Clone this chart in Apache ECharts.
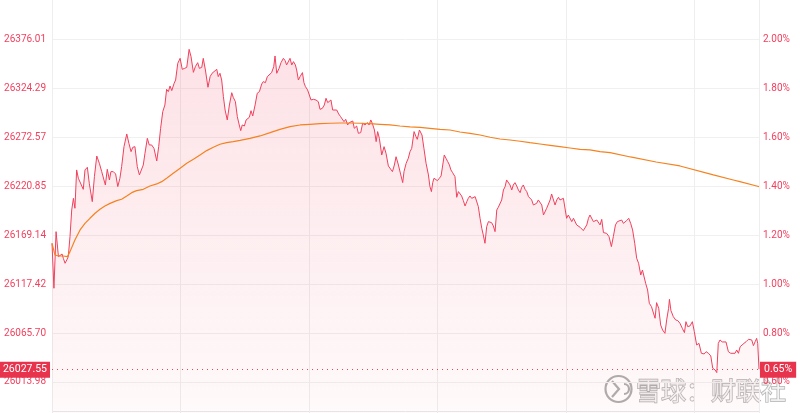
<!DOCTYPE html>
<html>
<head>
<meta charset="utf-8">
<style>html,body{margin:0;padding:0;background:#fff;}#c{width:800px;height:413px;}</style>
<script src="https://cdn.jsdelivr.net/npm/echarts/dist/echarts.min.js"></script>
</head>
<body>
<div id="c"></div>
<script>
// previous close (0% reference) and last price
const prevClose = 25858.83;
const lastPrice = 26027.55;
// percent tick values shown on both axes
const pctTicks = [0.6, 0.8, 1.0, 1.2, 1.4, 1.6, 1.8, 2.0];
// minute offset from 09:30 (lunch break removed), index price
const pricePoints = [[0,26160.5],[0.9,26113.0],[1.9,26172.8],[3.0,26146.4],[3.7,26147.1],[4.7,26149.2],[5.3,26144.6],[6.1,26139.4],[6.9,26142.9],[7.6,26146.4],[8.4,26167.5],[9.2,26195.7],[10.0,26208.0],[10.7,26197.5],[11.5,26238.0],[12.3,26229.2],[13.1,26229.2],[14.6,26217.5],[15.4,26238.0],[16.5,26240.8],[17.4,26223.9],[18.8,26204.5],[19.8,26230.9],[20.9,26252.7],[22.1,26245.0],[23.2,26236.2],[24.0,26234.4],[24.9,26222.1],[25.8,26238.7],[26.8,26227.4],[27.5,26236.2],[28.6,26236.2],[29.7,26233.7],[30.7,26220.4],[31.7,26229.2],[32.5,26241.5],[33.6,26262.6],[34.9,26276.0],[35.9,26266.1],[36.9,26257.3],[37.7,26261.9],[38.7,26262.6],[39.8,26241.5],[40.8,26232.7],[41.5,26232.7],[42.6,26243.2],[43.4,26255.6],[44.5,26271.4],[45.4,26264.4],[46.5,26264.4],[47.6,26260.8],[48.9,26247.5],[49.8,26262.6],[50.7,26282.0],[51.7,26299.6],[52.7,26306.6],[53.5,26323.2],[54.3,26320.7],[55.1,26326.7],[55.9,26321.8],[57.0,26329.5],[57.7,26333.0],[58.7,26350.6],[59.8,26355.9],[60.8,26344.3],[61.9,26345.3],[62.9,26346.4],[64.0,26365.4],[64.9,26357.7],[66.0,26341.1],[66.9,26347.1],[68.0,26351.3],[68.8,26345.3],[69.9,26346.4],[70.6,26355.9],[71.6,26343.6],[72.8,26325.3],[73.8,26336.6],[74.7,26340.1],[75.6,26341.8],[76.9,26344.3],[77.6,26336.6],[78.4,26340.1],[79.2,26333.0],[80.0,26315.4],[80.8,26301.3],[81.8,26290.8],[82.8,26306.6],[83.9,26319.6],
[84.6,26314.7],[85.6,26310.1],[86.5,26294.3],[87.4,26285.5],[88.1,26279.5],[88.8,26285.5],[89.8,26284.4],[90.6,26290.8],[91.3,26292.5],[92.1,26293.6],[92.9,26300.6],[93.7,26295.0],[94.8,26306.6],[95.8,26319.0],[96.8,26320.7],[97.9,26328.8],[98.6,26331.3],[99.6,26330.2],[100.5,26336.6],[101.4,26337.3],[102.5,26340.8],[103.5,26347.1],[104.1,26358.4],[104.9,26340.1],[106.0,26345.4],[106.9,26351.4],[108.0,26355.9],[108.8,26353.5],[109.5,26348.9],[110.3,26347.8],[111.1,26355.9],[111.9,26348.9],[112.7,26352.4],[113.6,26348.9],[114.2,26343.6],[115.0,26333.0],[115.8,26336.6],[116.9,26340.8],[117.6,26330.2],[118.3,26326.0],[119.3,26322.5],[120.1,26317.2],[120.9,26311.9],[122.0,26312.6],[123.2,26311.9],[124.3,26310.1],[125.1,26302.0],[126.2,26303.1],[127.1,26306.6],[127.9,26313.7],[128.7,26309.1],[129.5,26310.9],[130.2,26311.9],[131.0,26301.3],[131.8,26299.6],[132.9,26301.3],[133.8,26297.1],[134.7,26294.3],[135.5,26295.0],[136.3,26289.0],[137.1,26291.5],[138.0,26285.5],[138.8,26288.0],[139.6,26287.3],[140.4,26289.7],[141.1,26282.0],[142.2,26284.4],[143.0,26276.7],[144.1,26277.4],[145.0,26287.3],[146.1,26285.5],[147.2,26288.0],[148.0,26285.5],[148.8,26290.8],[149.5,26287.3],[150.5,26280.2],[151.3,26267.9],[152.0,26278.5],[152.8,26271.4],[153.9,26253.8],[155.0,26262.6],[155.9,26255.6],[157.0,26242.2],[157.8,26244.3],[158.9,26236.2],[159.8,26243.2],[160.6,26252.0],[161.7,26243.2],[162.8,26232.7],[163.7,26224.6],[164.3,26236.2],[165.3,26245.0],[166.3,26250.3],[167.1,26257.3],
[167.9,26260.8],[169.0,26278.5],[169.9,26273.2],[170.5,26270.3],[171.5,26280.2],[172.1,26280.9],[172.7,26274.9],[173.6,26260.8],[174.6,26245.0],[175.7,26232.7],[176.4,26220.4],[177.1,26215.1],[177.7,26224.6],[178.3,26229.2],[179.2,26230.9],[179.9,26226.7],[180.8,26229.2],[181.6,26231.6],[182.4,26232.7],[183.1,26253.8],[183.9,26250.3],[184.7,26246.8],[185.5,26243.2],[186.2,26238.0],[187.0,26235.1],[188.1,26230.9],[188.9,26209.1],[189.7,26215.1],[190.5,26213.3],[191.2,26210.5],[192.0,26205.6],[192.8,26199.9],[193.6,26204.5],[194.3,26208.0],[195.1,26210.5],[195.9,26208.0],[196.7,26209.1],[197.5,26209.8],[198.2,26211.6],[199.0,26199.2],[199.8,26186.9],[200.6,26176.3],[201.3,26169.3],[202.1,26160.5],[202.9,26178.1],[203.7,26183.4],[204.5,26185.1],[205.2,26182.3],[206.0,26178.8],[206.8,26172.8],[207.6,26195.7],[208.3,26198.5],[209.1,26199.2],[209.9,26206.3],[210.7,26216.8],[211.5,26220.4],[212.2,26227.4],[213.0,26225.6],[213.8,26222.1],[214.6,26216.8],[215.3,26222.1],[216.1,26224.6],[216.9,26221.1],[217.7,26216.8],[218.5,26214.0],[219.2,26219.6],[220.0,26222.1],[220.8,26217.5],[221.6,26215.1],[222.4,26209.8],[223.1,26208.0],[223.9,26206.3],[224.7,26201.0],[225.5,26199.2],[226.2,26202.7],[227.0,26206.3],[227.8,26204.5],[228.6,26201.0],[229.4,26190.4],[230.1,26190.4],[230.9,26197.5],[231.7,26199.2],[232.5,26206.3],[233.2,26212.6],[234.0,26213.3],[234.8,26201.0],[235.6,26206.3],[236.4,26209.1],[237.1,26206.3],[237.9,26207.0],[238.7,26208.0],[239.5,26206.3],[240.2,26186.9],[241.0,26190.4],[241.8,26189.4],[242.6,26183.4],[243.4,26186.9],[244.1,26185.1],[244.9,26179.9],[246.5,26177.4],[248.0,26173.9],[248.8,26174.6],[249.6,26179.9],[250.4,26186.9],[251.1,26190.4],[251.9,26188.7],[252.7,26183.4],[253.5,26183.4],[254.3,26185.1],[255.0,26186.9],[255.8,26179.9],[256.6,26185.8],[257.4,26171.8],[258.9,26171.0],[260.0,26167.5],
[261.1,26157.0],[262.0,26167.5],[263.0,26179.9],[263.9,26183.4],[264.8,26183.4],[265.9,26185.1],[266.7,26181.6],[267.5,26183.4],[268.2,26184.4],[269.2,26186.9],[270.1,26181.6],[271.0,26174.6],[272.0,26160.5],[272.9,26144.7],[273.8,26139.4],[274.8,26127.0],[275.6,26132.3],[276.3,26134.1],[277.1,26118.2],[278.0,26111.2],[278.8,26097.1],[279.8,26093.6],[280.7,26095.3],[281.5,26081.3],[282.2,26097.8],[283.2,26091.8],[284.1,26074.2],[285.0,26068.9],[286.1,26065.4],[286.9,26079.5],[287.8,26091.8],[288.2,26101.3],[288.9,26089.4],[290.0,26083.0],[291.1,26079.5],[292.1,26078.8],[293.1,26076.0],[294.2,26070.7],[295.2,26066.1],[295.9,26077.7],[296.7,26072.5],[297.8,26073.2],[298.9,26077.7],[299.8,26067.2],[300.9,26053.1],[302.0,26054.8],[303.1,26044.3],[304.4,26043.6],[305.3,26046.0],[306.4,26044.3],[307.5,26041.5],[308.4,26028.5],[309.5,26026.7],[310.3,26023.9],[311.0,26054.8],[311.8,26058.4],[312.8,26056.3],[313.7,26056.6],[314.6,26056.3],[315.7,26046.0],[316.8,26044.3],[317.7,26046.0],[318.8,26044.3],[319.6,26047.8],[320.4,26044.3],[321.2,26051.3],[321.9,26052.0],[323.0,26054.8],[324.0,26056.6],[325.1,26059.1],[325.8,26060.1],[326.6,26058.4],[327.4,26052.4],[328.2,26056.6],[328.9,26060.1],[329.4,26054.8],[330,26027.55]];
// average price line
const avgPoints = [[0,26160.5],[1.4,26148.1],[3.0,26147.1],[5.3,26147.1],[7.2,26146.4],[8.4,26151.7],[10.7,26164.0],[13.1,26174.6],[15.4,26181.6],[17.7,26186.9],[20.1,26192.2],[22.4,26196.4],[24.7,26199.9],[27.1,26202.7],[30.2,26205.6],[32.5,26207.0],[34.9,26210.5],[37.2,26214.0],[39.5,26216.1],[42.6,26217.5],[45.7,26221.0],[48.9,26223.2],[51.2,26225.6],[53.5,26229.2],[56.6,26234.4],[59.8,26239.7],[62.9,26245.0],[66.0,26249.2],[69.1,26253.8],[72.2,26258.4],[75.3,26261.9],[78.4,26265.1],[81.5,26266.8],[84.6,26267.9],[87.8,26269.3],[92.4,26271.4],[97.1,26273.9],[101.8,26277.4],[106.4,26280.9],[111.1,26283.7],[115.8,26285.5],[120.4,26286.2],[125.1,26286.9],[129.8,26287.3],[134.4,26287.6],[139.1,26287.6],[143.8,26287.3],[148.4,26286.9],[153.1,26286.2],[157.8,26285.5],[162.4,26284.4],[167.1,26283.4],[171.8,26283.0],[176.4,26282.0],[181.1,26280.9],[185.8,26280.2],[190.4,26278.1],[195.1,26276.7],[199.8,26274.9],[204.5,26272.5],[209.1,26270.7],[213.8,26269.6],[218.5,26268.3],[223.1,26266.8],[227.8,26265.4],[232.5,26264.0],[237.1,26262.6],[241.8,26261.2],[246.5,26259.8],[251.1,26259.1],[255.8,26257.3],[260.5,26256.3],[270,26251.7],[282,26246.4],[293.1,26242.2],[308.7,26232.7],[318.0,26227.4],[321.1,26225.6],[328.9,26221.0],[330,26220.3]];

const toPct = p => (p / prevClose - 1) * 100;
const priceData = pricePoints.map(d => [d[0], toPct(d[1])]);
const avgData = avgPoints.map(d => [d[0], toPct(d[1])]);
const lastPct = toPct(lastPrice);

const RED = '#f0405c';
const LABEL_RED = '#f2415e';
const tickSet = new Set(pctTicks.map(v => v.toFixed(2)));

const chart = echarts.init(document.getElementById('c'), null, {renderer: 'canvas'});
const yBase = {
  type: 'value', min: 0.4, max: 2.2, interval: 0.2,
  axisLine: {show: false}, axisTick: {show: false}
};
chart.setOption({
  animation: false,
  grid: {left: 52, right: 41, top: -9.66, height: 440.6, containLabel: false, outerBoundsMode: 'none'},
  xAxis: {
    type: 'value', min: 0, max: 330, interval: 60,
    axisLine: {show: false}, axisTick: {show: false}, axisLabel: {show: false},
    splitLine: {show: true, lineStyle: {color: '#eeeeee', width: 1}}
  },
  yAxis: [
    Object.assign({}, yBase, {
      position: 'left',
      splitLine: {show: true, lineStyle: {color: '#f0f0f0', width: 1}},
      axisLabel: {
        margin: 6, color: LABEL_RED, fontSize: 10, fontFamily: 'Roboto',
        formatter: v => tickSet.has(v.toFixed(2)) ? (prevClose * (1 + v / 100)).toFixed(2) : ''
      }
    }),
    Object.assign({}, yBase, {
      position: 'right',
      splitLine: {show: false},
      axisLabel: {
        margin: 4, color: LABEL_RED, fontSize: 10, fontFamily: 'Roboto',
        formatter: v => tickSet.has(v.toFixed(2)) ? v.toFixed(2) + '%' : ''
      }
    })
  ],
  series: [
    {
      type: 'line', data: priceData, showSymbol: false, symbol: 'none',
      lineStyle: {color: RED, width: 1},
      areaStyle: {
        color: new echarts.graphic.LinearGradient(0, 0, 0, 1, [
          {offset: 0, color: 'rgba(240,64,92,0.22)'},
          {offset: 1, color: 'rgba(240,64,92,0.03)'}
        ])
      },
      markLine: {
        silent: true, symbol: ['none', 'none'], animation: false,
        lineStyle: {color: RED, type: [1, 4], width: 1},
        data: [
          {yAxis: lastPct, label: {show: true, position: 'start', distance: 2,
            formatter: lastPrice.toFixed(2), color: '#fff', backgroundColor: '#e8334d',
            padding: [3, 3, 2, 3], fontSize: 10.5, fontFamily: 'Roboto'}},
          {yAxis: lastPct, label: {show: true, position: 'end', distance: 1,
            formatter: lastPct.toFixed(2) + '%', color: '#fff', backgroundColor: '#e8334d',
            padding: [3, 4, 2, 4], fontSize: 10.5, fontFamily: 'Roboto'}}
        ]
      },
      z: 2
    },
    {
      type: 'line', data: avgData, showSymbol: false, symbol: 'none',
      lineStyle: {color: '#f5821f', width: 1.2}, z: 3
    }
  ],
  graphic: [
    {type: 'line', shape: {x1: 52, y1: 411.5, x2: 759, y2: 411.5}, style: {stroke: '#e8e8e8', lineWidth: 1}, silent: true},
    {type: 'group', z: 100, silent: true, children: [
      {type: 'circle', shape: {cx: 618.5, cy: 389, r: 13},
        style: {fill: 'rgba(255,255,255,0.6)', stroke: 'rgba(140,140,140,0.7)', lineWidth: 2.2}},
      {type: 'polyline', shape: {points: [[612, 381], [619, 389], [612, 397]]},
        style: {fill: 'none', stroke: 'rgba(140,140,140,0.7)', lineWidth: 2.2}},
      {type: 'arc', shape: {cx: 624, cy: 389, r: 5, startAngle: -Math.PI / 2, endAngle: Math.PI / 2},
        style: {fill: 'none', stroke: 'rgba(140,140,140,0.7)', lineWidth: 2.2}},
      {type: 'text', x: 636, y: 390, style: {text: '雪球：财联社', font: '25px "Noto Sans CJK SC"',
        fill: 'rgba(255,255,255,0.75)', stroke: 'rgba(120,120,120,0.6)', lineWidth: 1.3,
        textVerticalAlign: 'middle', verticalAlign: 'middle'}}
    ]}
  ]
});
</script>
</body>
</html>
